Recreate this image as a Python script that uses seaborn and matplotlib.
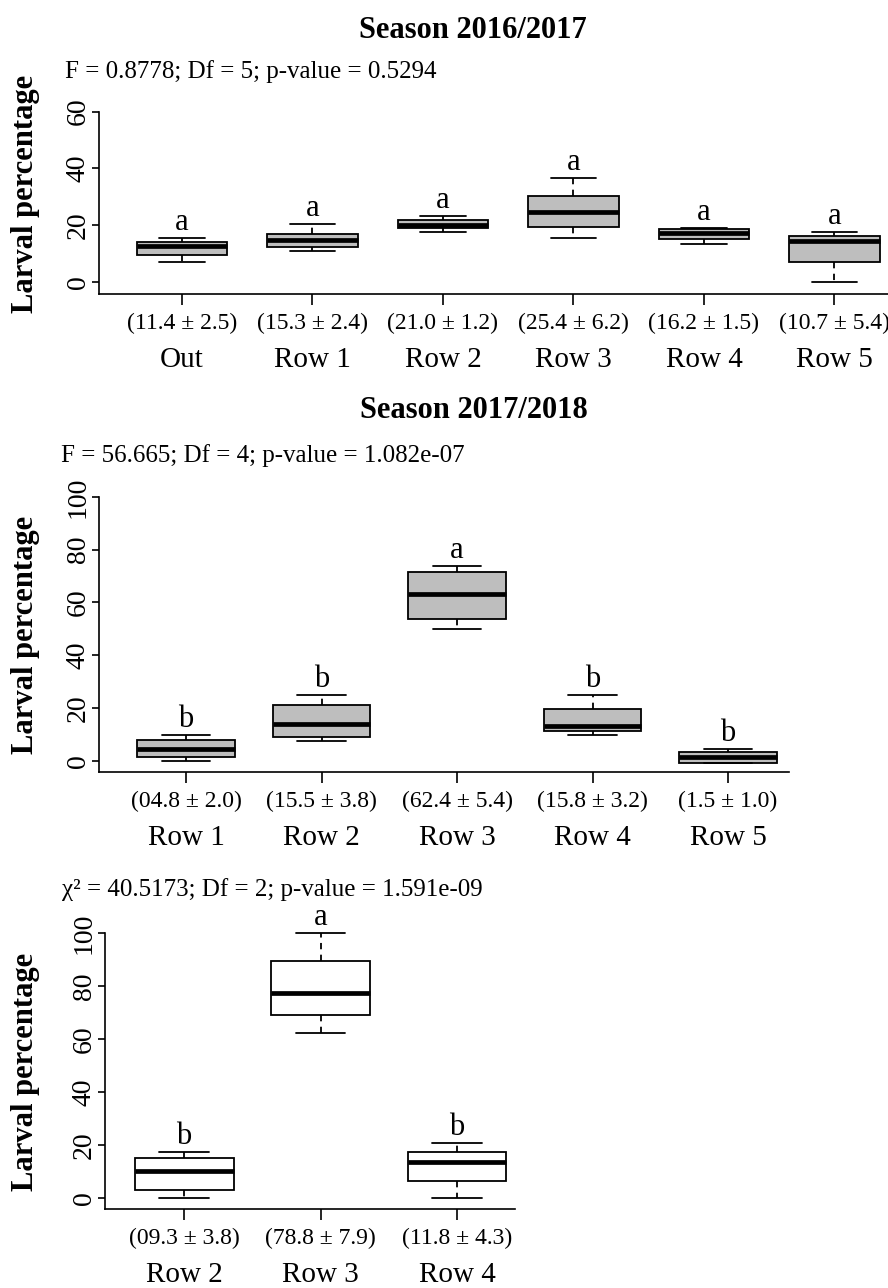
import numpy as np
import pandas as pd
import matplotlib
matplotlib.use("Agg")
import matplotlib.pyplot as plt
import seaborn as sns

# Season 2016/2017 (ANOVA)
groups1 = ["Out", "Row 1", "Row 2", "Row 3", "Row 4", "Row 5"]
means1 = ["(11.4 ± 2.5)", "(15.3 ± 2.4)", "(21.0 ± 1.2)", "(25.4 ± 6.2)", "(16.2 ± 1.5)", "(10.7 ± 5.4)"]
letters1 = ["a", "a", "a", "a", "a", "a"]
# five numbers per box: min, q1, median, q3, max
boxes1 = [[6.9, 9.6, 12.8, 14.2, 15.4],
          [11.0, 12.3, 14.8, 16.9, 20.4],
          [17.5, 18.9, 20.1, 21.8, 23.2],
          [15.4, 19.5, 24.5, 30.4, 36.5],
          [13.3, 15.3, 17.1, 18.5, 19.1],
          [0.1, 7.2, 14.4, 16.2, 17.5]]
stat1 = "F = 0.8778; Df = 5; p-value = 0.5294"

# Season 2017/2018 (ANOVA)
groups2 = ["Row 1", "Row 2", "Row 3", "Row 4", "Row 5"]
means2 = ["(04.8 ± 2.0)", "(15.5 ± 3.8)", "(62.4 ± 5.4)", "(15.8 ± 3.2)", "(1.5 ± 1.0)"]
letters2 = ["b", "b", "a", "b", "b"]
boxes2 = [[0.0, 1.4, 4.4, 7.8, 10.0],
          [7.6, 9.0, 14.1, 21.2, 25.1],
          [50.0, 53.8, 63.4, 71.5, 73.7],
          [9.7, 11.2, 13.3, 19.8, 25.1],
          [-0.9, -0.9, 1.3, 3.3, 4.5]]
stat2 = "F = 56.665; Df = 4; p-value = 1.082e-07"

# Kruskal-Wallis panel
groups3 = ["Row 2", "Row 3", "Row 4"]
means3 = ["(09.3 ± 3.8)", "(78.8 ± 7.9)", "(11.8 ± 4.3)"]
letters3 = ["b", "a", "b"]
boxes3 = [[0.1, 3.1, 10.1, 15.2, 17.5],
          [62.1, 68.9, 77.2, 89.4, 99.9],
          [0.0, 6.3, 13.7, 17.5, 20.6]]
stat3 = "χ² = 40.5173; Df = 2; p-value = 1.591e-09"

sns.set_theme(style="ticks", rc={"axes.edgecolor": "black", "xtick.color": "black",
                                 "ytick.color": "black", "text.color": "black",
                                 "axes.labelcolor": "black"})
plt.rcParams["font.family"] = ["Liberation Serif", "DejaVu Serif"]

W, H = 888, 1288
fig = plt.figure(figsize=(W / 100, H / 100), dpi=100)


def panel(left, right, top, bottom, groups, boxes, means, letters, fill,
          ylim, xlim, yticks, width):
    ax = fig.add_axes([left / W, 1 - bottom / H, (right - left) / W, (bottom - top) / H])
    df = pd.DataFrame({"grp": np.repeat(groups, 5),
                       "val": np.concatenate(boxes)})
    sns.boxplot(data=df, x="grp", y="val", order=groups, ax=ax,
                color=fill, linecolor="black", linewidth=1.3, width=width,
                whis=(0, 100), saturation=1, showfliers=False,
                medianprops={"linewidth": 3.4},
                whiskerprops={"linestyle": (0, (3.5, 3))})
    ax.set_ylim(*ylim)
    ax.set_xlim(*xlim)
    ax.set_yticks(yticks)
    ax.set_xticks(range(len(groups)))
    ax.set_xticklabels([])
    ax.set_xlabel("")
    ax.set_ylabel("")
    ax.spines["top"].set_visible(False)
    ax.spines["right"].set_visible(False)
    ax.spines["left"].set_bounds(ylim[0], yticks[-1])
    ax.spines["left"].set_linewidth(1.2)
    ax.spines["bottom"].set_linewidth(1.2)
    ax.tick_params(axis="y", labelrotation=90, length=5, width=1.2, pad=1, labelsize=20)
    ax.tick_params(axis="x", length=8, width=1.2)
    for lab in ax.get_yticklabels():
        lab.set_verticalalignment("center")
    for i, g in enumerate(groups):
        ax.annotate(means[i], xy=(i, 0), xycoords=("data", "axes fraction"),
                    xytext=(0, -35), textcoords="offset pixels",
                    ha="center", va="baseline", fontsize=17)
        ax.annotate(g, xy=(i, 0), xycoords=("data", "axes fraction"),
                    xytext=(0, -73), textcoords="offset pixels",
                    ha="center", va="baseline", fontsize=21)
        ax.annotate(letters[i], xy=(i, boxes[i][4]), xycoords="data",
                    xytext=(0, 8), textcoords="offset pixels",
                    ha="center", va="baseline", fontsize=22, annotation_clip=False)
    fig.text(26 / W, 1 - ((top + bottom) / 2 + 6) / H, "Larval percentage",
             rotation=90, ha="center", va="center", fontsize=22, fontweight="bold")
    return ax


panel(99, 888, 82.3, 294, groups1, boxes1, means1, letters1, "#BEBEBE",
      (-4.2, 70.3), (-0.636, 5.41), [0, 20, 40, 60], 0.69)
panel(99, 789, 485, 772, groups2, boxes2, means2, letters2, "#BEBEBE",
      (-4.2, 104.5), (-0.642, 4.45), [0, 20, 40, 60, 80, 100], 0.72)
panel(105, 515, 922.4, 1209, groups3, boxes3, means3, letters3, "white",
      (-4.15, 104), (-0.579, 2.425), [0, 20, 40, 60, 80, 100], 0.725)

fig.text(473 / W, 1 - 38 / H, "Season 2016/2017", ha="center", va="baseline",
         fontsize=22, fontweight="bold")
fig.text(65 / W, 1 - 78 / H, stat1, ha="left", va="baseline", fontsize=18)
fig.text(474 / W, 1 - 418 / H, "Season 2017/2018", ha="center", va="baseline",
         fontsize=22, fontweight="bold")
fig.text(61 / W, 1 - 462 / H, stat2, ha="left", va="baseline", fontsize=18)
fig.text(62 / W, 1 - 896 / H, stat3, ha="left", va="baseline", fontsize=18)

fig.savefig("out.png", dpi=100)
